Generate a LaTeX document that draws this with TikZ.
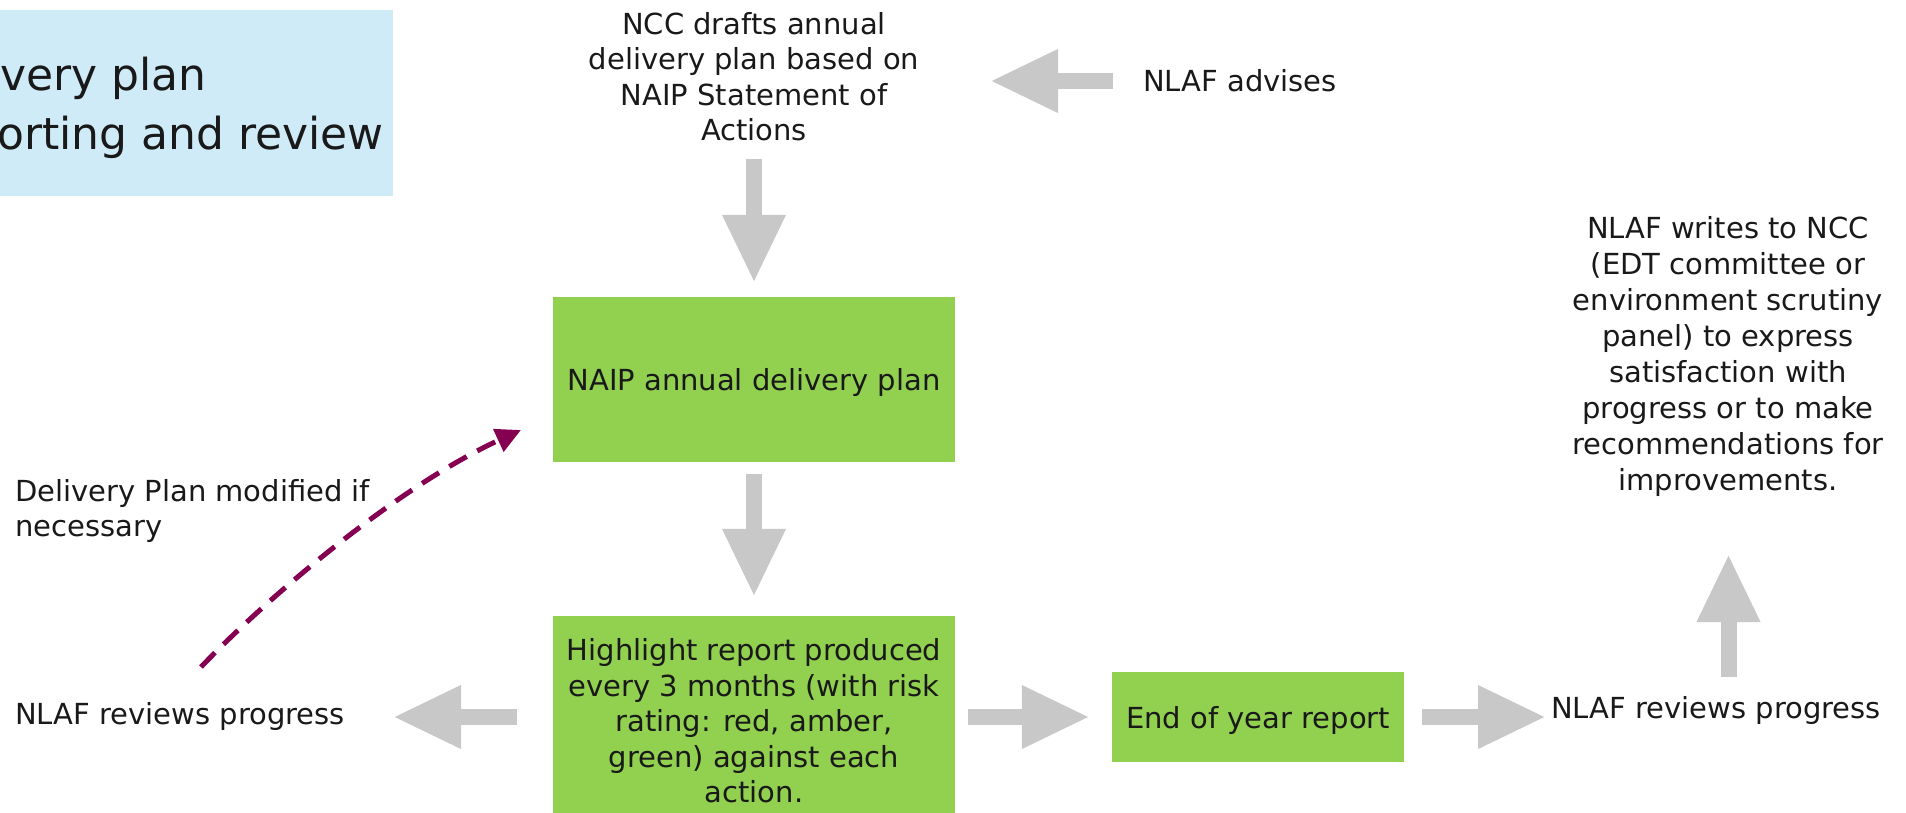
\documentclass[tikz,border=0pt]{standalone}
\usepackage{fontspec}
\setmainfont{DejaVu Sans}
\usetikzlibrary{arrows.meta}
\definecolor{boxgreen}{RGB}{146,208,80}
\definecolor{titleblue}{RGB}{207,235,248}
\definecolor{arrowgray}{RGB}{200,200,200}
\definecolor{modpurple}{RGB}{134,0,82}
\definecolor{txt}{RGB}{25,25,25}
\tikzset{
  body/.style={font=\fontsize{29}{35.5}\selectfont, text=txt, inner sep=0pt, align=center},
  greenbox/.style={body, fill=boxgreen, draw=none},
  titletext/.style={font=\fontsize{44}{57}\selectfont, text=txt, inner sep=0pt, anchor=base west},
  blk/.style={draw=arrowgray, line width=16pt, -{Triangle[length=68pt,width=59pt]}},
  modarrow/.style={draw=modpurple, line width=5pt, dash pattern=on 20pt off 12pt, -{Triangle[length=25pt,width=24pt]}},
}
\begin{document}
\begin{tikzpicture}[x=1pt,y=-1pt]
\useasboundingbox (0,0) rectangle (1906,812);
\clip (0,0) rectangle (1906,812);

% title
\node[fill=titleblue, minimum width=413pt, minimum height=186pt, inner sep=0pt, anchor=north west] (titlebox) at (-20,10) {};
\node[titletext] (title1) at (0,90.5) {very plan};
\node[titletext] (title2) at (-3,149.5) {orting and review};

% texts
\node[body] (ncc) at (754,76.5) {NCC drafts annual\\delivery plan based on\\NAIP Statement of\\Actions};
\node[body] (adv) at (1240,80.5) {NLAF advises};
\node[body, align=left, anchor=west] (mod) at (15,511) {Delivery Plan modified if\\necessary};
\node[body, anchor=west] (revL) at (15,716.5) {NLAF reviews progress};
\node[body, anchor=west] (revR) at (1551,710.5) {NLAF reviews progress};
\node[body, font=\fontsize{29}{36}\selectfont] (writes) at (1728,356) {NLAF writes to NCC\\(EDT committee or\\environment scrutiny\\panel) to express\\satisfaction with\\progress or to make\\recommendations for\\improvements.};

% boxes
\node[greenbox, minimum width=402pt, minimum height=165pt, text height=28pt] (plan) at (754,379.5) {NAIP annual delivery plan};
\node[greenbox, minimum width=402pt, minimum height=210pt] (hl) at (754,721) {Highlight report produced\\every 3 months (with risk\\rating: red, amber,\\green) against each\\action.};
\node[greenbox, minimum width=292pt, minimum height=90pt, text height=29pt] (eoy) at (1258,717) {End of year report};

% arrow end points
\coordinate (advTail) at (1113,81);
\coordinate (advTip) at (990,81);
\coordinate (nccFoot) at (754,159);
\coordinate (revLTip) at (393,717);
\coordinate (revRTip) at (1546,717);
\coordinate (upTail) at (1728.5,677);
\coordinate (upTip) at (1728.5,554);
\coordinate (modStart) at (201,667);
\coordinate (modTip) at (521,430);

% block arrows
\draw[blk] (advTail) -- (advTip);
\draw[blk, shorten >=14pt] (nccFoot) -- (plan.north);
\draw[blk, shorten <=12pt, shorten >=19pt] (plan.south) -- (hl.north);
\draw[blk, shorten <=36pt] ([yshift=4pt]hl.west) -- (revLTip);
\draw[blk, shorten <=13pt, shorten >=22pt] ([yshift=4pt]hl.east) -- (eoy.west);
\draw[blk, shorten <=18pt] (eoy.east) -- (revRTip);
\draw[blk] (upTail) -- (upTip);

% dashed modification arrow
\draw[modarrow] (modStart) .. controls (265,600) and (395,488) .. (modTip);
\end{tikzpicture}
\end{document}
